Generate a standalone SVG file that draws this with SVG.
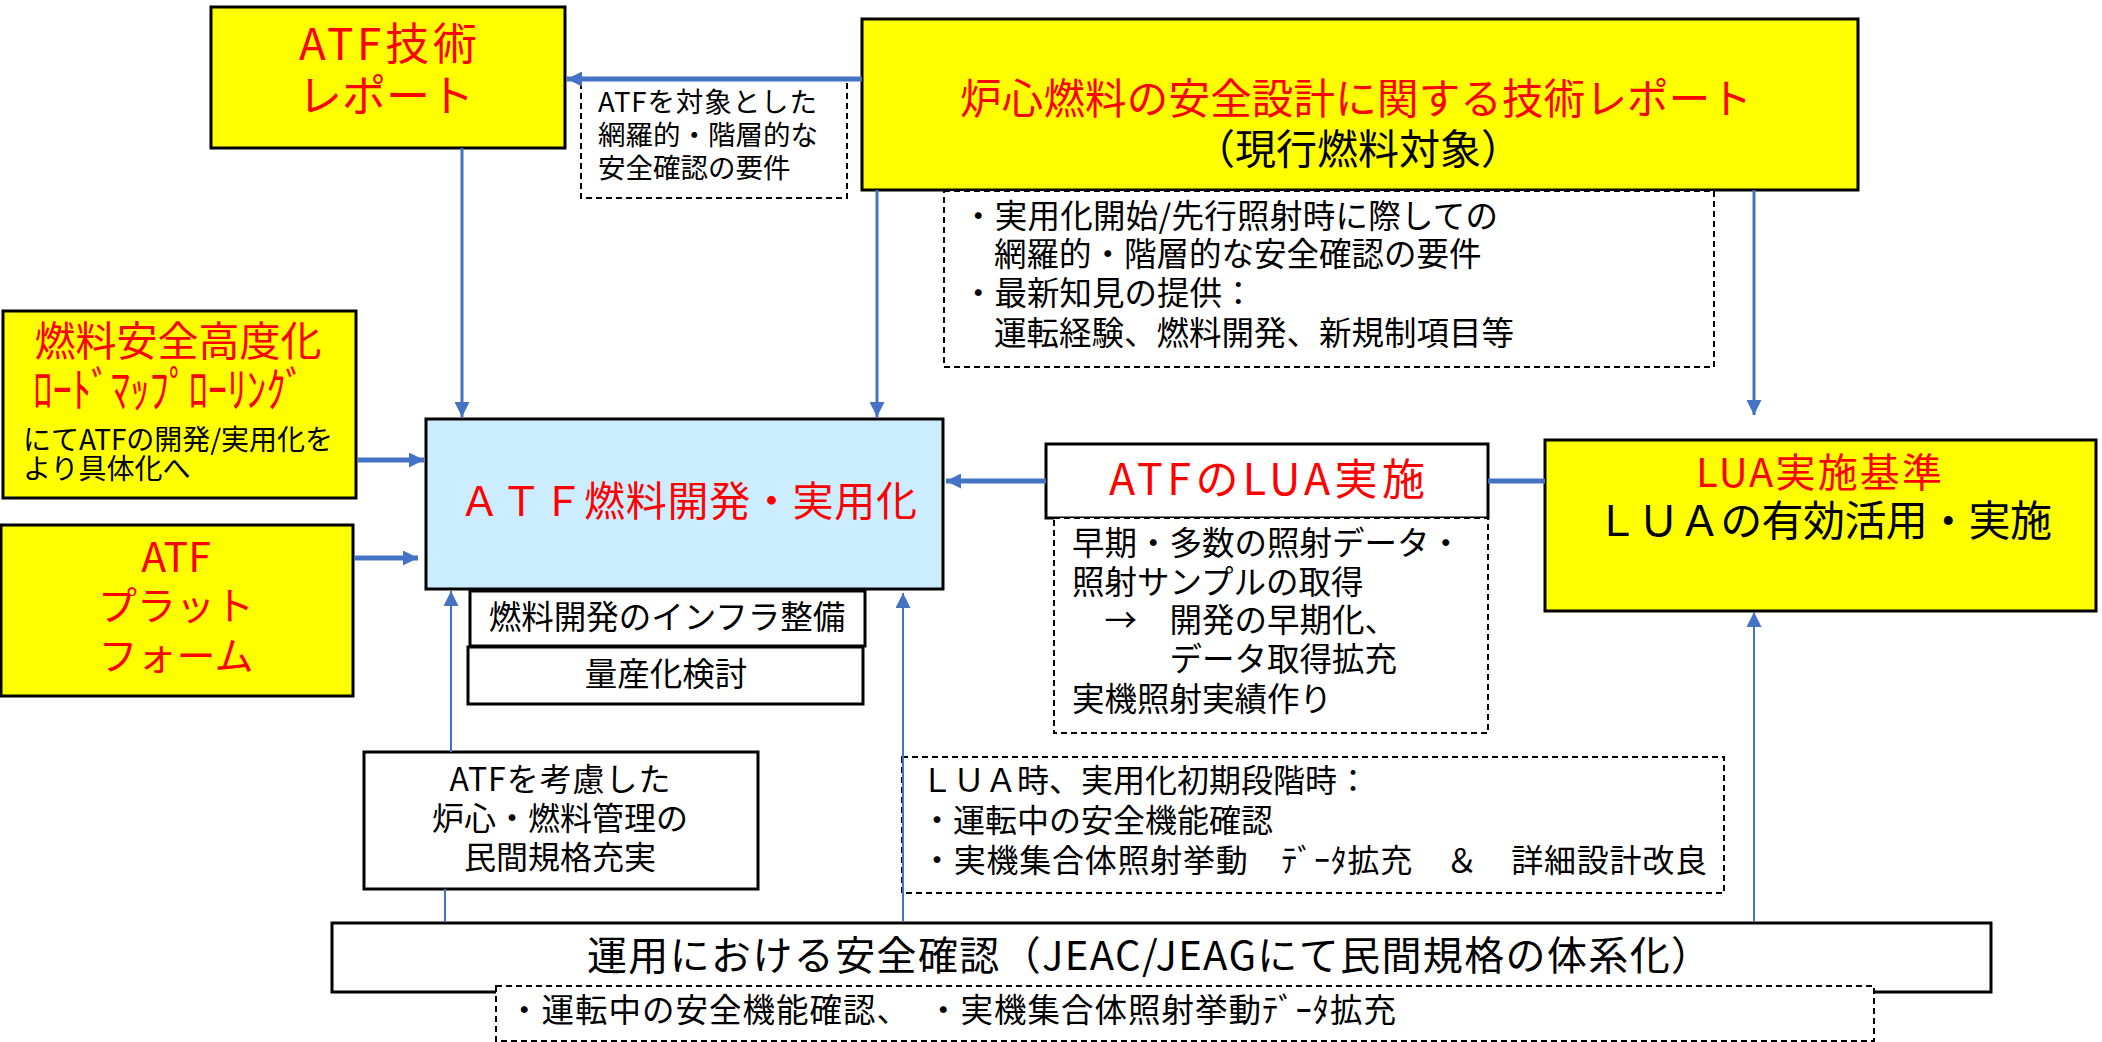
<svg xmlns="http://www.w3.org/2000/svg" width="2102" height="1042" viewBox="0 0 2102 1042">
<style>
text{font-family:"Noto Sans CJK JP","Noto Sans CJK SC",sans-serif;}
.y{fill:#FFFF00;stroke:#000;stroke-width:3;}
.w{fill:#FFFFFF;stroke:#000;stroke-width:3;}
.b{fill:#CCECFF;stroke:#000;stroke-width:3;}
.d{fill:#FFFFFF;stroke:#000;stroke-width:2;stroke-dasharray:6 4;}
.r{fill:#FF0000;}
.k{fill:#000000;}
.m{text-anchor:middle;}
.c{fill:none;stroke:#4472C4;}
.t5{stroke-width:5;}
.t3{stroke-width:3;}
.t2{stroke-width:2;}
</style>
<defs>
<marker id="ah" markerUnits="userSpaceOnUse" markerWidth="15" markerHeight="15" viewBox="0 0 15 15" refX="15" refY="7.5" orient="auto">
<path d="M0,0 L15,7.5 L0,15 z" fill="#4472C4"/>
</marker>
</defs>
<rect width="2102" height="1042" fill="#FFFFFF"/>

<g id="atf-report">
<rect class="y" x="211" y="7" width="354" height="141"/>
<text class="r m" x="388" y="60" font-size="44" textLength="178">ATF技術</text>
<text class="r m" x="386" y="112" font-size="44">レポート</text>
</g>

<g id="label-atf-target">
<rect class="d" x="581" y="79" width="266" height="119"/>
<text class="k" x="598" y="112" font-size="27.5" textLength="219">ATFを対象とした</text>
<text class="k" x="598" y="145" font-size="27.5">網羅的・階層的な</text>
<text class="k" x="598" y="178" font-size="27.5">安全確認の要件</text>
</g>

<g id="core-report">
<rect class="y" x="862" y="19" width="996" height="171"/>
<text class="r m" x="1356" y="114" font-size="41.5" textLength="792">炉心燃料の安全設計に関する技術レポート</text>
<text class="k m" x="1358" y="164" font-size="41">（現行燃料対象）</text>
</g>

<g id="label-core">
<rect class="d" x="944" y="191" width="770" height="176"/>
<text class="k" x="962" y="228" font-size="32.5" textLength="536">・実用化開始/先行照射時に際しての</text>
<text class="k" x="994" y="266" font-size="32.5">網羅的・階層的な安全確認の要件</text>
<text class="k" x="962" y="305" font-size="32.5">・最新知見の提供：</text>
<text class="k" x="994" y="345" font-size="32.5">運転経験、燃料開発、新規制項目等</text>
</g>

<g id="roadmap">
<rect class="y" x="3" y="311" width="353" height="187"/>
<text class="r m" x="178" y="356" font-size="41">燃料安全高度化</text>
<text class="r" x="33" y="407" font-size="48" textLength="272" lengthAdjust="spacingAndGlyphs">ﾛｰﾄﾞﾏｯﾌﾟﾛｰﾘﾝｸﾞ</text>
<text class="k" x="23" y="450" font-size="28" textLength="310">にてATFの開発/実用化を</text>
<text class="k" x="23" y="479" font-size="28">より具体化へ</text>
</g>

<g id="platform">
<rect class="y" x="1" y="525" width="352" height="171"/>
<text class="r m" x="176" y="572" font-size="41">ATF</text>
<text class="r m" x="176" y="620" font-size="39">プラット</text>
<text class="r m" x="176" y="670" font-size="39">フォーム</text>
</g>

<g id="atf-dev">
<rect class="b" x="426" y="419" width="517" height="170"/>
<text class="r m" x="688" y="516" font-size="41" textLength="458">ＡＴＦ燃料開発・実用化</text>
</g>

<g id="infra">
<rect class="w" x="470" y="591" width="395" height="55"/>
<text class="k m" x="667" y="629" font-size="32.5">燃料開発のインフラ整備</text>
</g>

<g id="mass-prod">
<rect class="w" x="468" y="647" width="395" height="57"/>
<text class="k m" x="666" y="686" font-size="32.5">量産化検討</text>
</g>

<g id="atf-lua">
<rect class="w" x="1046" y="444" width="442" height="74"/>
<text class="r m" x="1267" y="495" font-size="43" textLength="316">ATFのLUA実施</text>
</g>

<g id="label-lua">
<rect class="d" x="1054" y="518" width="434" height="215"/>
<text class="k" x="1072" y="555" font-size="32.5">早期・多数の照射データ・</text>
<text class="k" x="1072" y="594" font-size="32.5">照射サンプルの取得</text>
<text class="k" x="1072" y="632" font-size="32.5">　→　開発の早期化、</text>
<text class="k" x="1072" y="671" font-size="32.5">　　　データ取得拡充</text>
<text class="k" x="1072" y="711" font-size="32.5">実機照射実績作り</text>
</g>

<g id="lua-standard">
<rect class="y" x="1545" y="440" width="551" height="171"/>
<text class="r m" x="1819" y="487" font-size="40" textLength="246">LUA実施基準</text>
<text class="k m" x="1824" y="536" font-size="42" textLength="456">ＬＵＡの有効活用・実施</text>
</g>

<g id="core-mgmt">
<rect class="w" x="364" y="752" width="394" height="137"/>
<text class="k m" x="560" y="791" font-size="32" textLength="221">ATFを考慮した</text>
<text class="k m" x="560" y="830" font-size="32">炉心・燃料管理の</text>
<text class="k m" x="560" y="869" font-size="32">民間規格充実</text>
</g>

<g id="label-lua-time">
<rect class="d" x="902" y="757" width="822" height="136"/>
<text class="k" x="921" y="792" font-size="32">ＬＵＡ時、実用化初期段階時：</text>
<text class="k" x="921" y="832" font-size="32">・運転中の安全機能確認</text>
<text class="k" x="921" y="872" font-size="32" textLength="786">・実機集合体照射挙動　ﾃﾞｰﾀ拡充　＆　詳細設計改良</text>
</g>

<g id="operation">
<rect class="w" x="332" y="923" width="1659" height="69"/>
<text class="k m" x="1149" y="970" font-size="40" textLength="1124">運用における安全確認（JEAC/JEAGにて民間規格の体系化）</text>
</g>

<g id="label-operation">
<rect class="d" x="496" y="986" width="1378" height="55"/>
<text class="k" x="508" y="1022" font-size="32.5" textLength="888">・運転中の安全機能確認、　・実機集合体照射挙動ﾃﾞｰﾀ拡充</text>
</g>

<g id="connectors">
<line class="c t5" x1="862" y1="79" x2="567" y2="79" marker-end="url(#ah)"/>
<line class="c t3" x1="462" y1="148" x2="462" y2="417" marker-end="url(#ah)"/>
<line class="c t3" x1="877" y1="190" x2="877" y2="417" marker-end="url(#ah)"/>
<line class="c t3" x1="1754" y1="190" x2="1754" y2="415" marker-end="url(#ah)"/>
<line class="c t5" x1="357" y1="460" x2="424" y2="460" marker-end="url(#ah)"/>
<line class="c t5" x1="354" y1="558" x2="418" y2="558" marker-end="url(#ah)"/>
<line class="c t5" x1="1046" y1="481" x2="946" y2="481" marker-end="url(#ah)"/>
<line class="c t5" x1="1488" y1="481" x2="1545" y2="481"/>
<line class="c t2" x1="445" y1="922" x2="445" y2="889"/>
<line class="c t2" x1="451" y1="752" x2="451" y2="591" marker-end="url(#ah)"/>
<line class="c t2" x1="903" y1="922" x2="903" y2="593" marker-end="url(#ah)"/>
<line class="c t2" x1="1754" y1="922" x2="1754" y2="612" marker-end="url(#ah)"/>
</g>
</svg>
